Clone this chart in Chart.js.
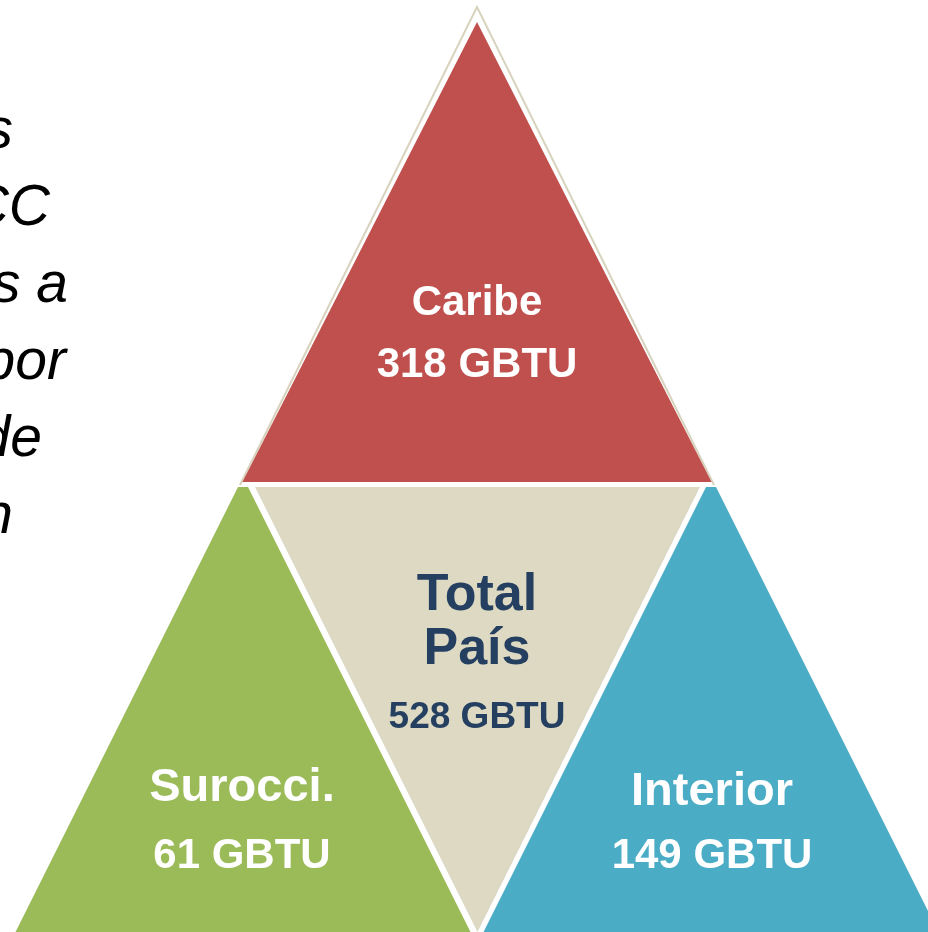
<!DOCTYPE html>
<html>
<head>
<meta charset="utf-8">
<script src="https://cdn.jsdelivr.net/npm/chart.js@4"></script>
<style>
  html, body { margin: 0; padding: 0; background: #fff; }
  #wrap { width: 928px; height: 932px; }
</style>
</head>
<body>
<div id="wrap"><canvas id="piramide" width="928" height="932"></canvas></div>
<script>
// datos
const regiones = ['Caribe', 'Surocci.', 'Interior', 'Total País'];
const consumo = [318, 61, 149, 528];
const unidad = 'GBTU';
const colores = ['#C0504D', '#9BBB59', '#4BACC6', '#DDD9C3'];
const colorTexto = ['#FFFFFF', '#FFFFFF', '#FFFFFF', '#243F60'];
const textoLateral = ['s', 'CC', 's a', 'por', 'de', 'n'];

// geometria de la piramide (unidades = pixeles de la escala)
function trianguloArriba(cx, apiceY, baseY, pend, corteY) {
  const top = corteY !== undefined ? corteY : apiceY;
  const d = (top - apiceY) * pend;
  const w = (baseY - apiceY) * pend;
  const pts = d > 0
    ? [[cx - d, top], [cx + d, top], [cx + w, baseY], [cx - w, baseY], [cx - d, top]]
    : [[cx, apiceY], [cx + w, baseY], [cx - w, baseY], [cx, apiceY]];
  return pts.map(p => ({x: p[0], y: p[1]}));
}
function trianguloAbajo(cx, topY, apiceY, pend) {
  const w = (apiceY - topY) * pend;
  return [[cx - w, topY], [cx + w, topY], [cx, apiceY], [cx - w, topY]].map(p => ({x: p[0], y: p[1]}));
}

const formas = [
  trianguloArriba(477, 22, 482, 0.51),
  trianguloArriba(243, 477, 945, 0.5, 487),
  trianguloArriba(711, 477, 945, 0.5, 487),
  trianguloAbajo(477.5, 487, 932, 0.5)
];
const contorno = [{x: 240, y: 485}, {x: 477, y: 7}, {x: 714, y: 485}];

// posicion de los textos
const posEtiquetas = [
  {x: 477, nombre: [315], valor: 377, fN: 42, fV: 42},
  {x: 242, nombre: [801], valor: 868, fN: 47, fV: 42},
  {x: 712, nombre: [805], valor: 868, fN: 47, fV: 42},
  {x: 477, nombre: [610, 664], valor: 728, fN: 52, fV: 37}
];

const datasets = formas.map((pts, i) => ({
  label: regiones[i],
  data: pts,
  showLine: true,
  fill: 'shape',
  backgroundColor: colores[i],
  borderColor: 'rgba(0,0,0,0)',
  borderWidth: 0,
  pointRadius: 0,
  order: 1
}));
datasets.push({
  label: 'contorno',
  data: contorno,
  showLine: true,
  fill: false,
  borderColor: '#D8D3BE',
  borderWidth: 2,
  pointRadius: 0,
  order: 10
});

const etiquetas = {
  id: 'etiquetas',
  afterDatasetsDraw(chart) {
    const {ctx, scales: {x, y}} = chart;
    ctx.save();
    ctx.textAlign = 'center';
    ctx.textBaseline = 'alphabetic';
    posEtiquetas.forEach((p, i) => {
      ctx.fillStyle = colorTexto[i];
      const lineas = p.nombre.length > 1 ? regiones[i].split(' ') : [regiones[i]];
      ctx.font = 'bold ' + p.fN + 'px "Liberation Sans", Arial, sans-serif';
      lineas.forEach((t, k) => ctx.fillText(t, x.getPixelForValue(p.x), y.getPixelForValue(p.nombre[k])));
      ctx.font = 'bold ' + p.fV + 'px "Liberation Sans", Arial, sans-serif';
      ctx.fillText(consumo[i] + ' ' + unidad, x.getPixelForValue(p.x), y.getPixelForValue(p.valor));
    });
    // texto cortado a la izquierda
    const finX = [13, 50, 68, 66, 42, 13];
    ctx.fillStyle = '#000';
    ctx.textAlign = 'right';
    ctx.font = 'italic 57px "Liberation Sans", Arial, sans-serif';
    textoLateral.forEach((t, k) => ctx.fillText(t, finX[k], 148 + 77 * k));
    ctx.restore();
  }
};

new Chart(document.getElementById('piramide'), {
  type: 'scatter',
  data: {datasets: datasets},
  options: {
    responsive: false,
    animation: false,
    events: [],
    layout: {padding: 0},
    elements: {line: {tension: 0}},
    scales: {
      x: {type: 'linear', display: false, min: 0, max: 928},
      y: {type: 'linear', display: false, min: 0, max: 932, reverse: true}
    },
    plugins: {
      legend: {display: false},
      tooltip: {enabled: false}
    }
  },
  plugins: [etiquetas]
});
</script>
</body>
</html>
